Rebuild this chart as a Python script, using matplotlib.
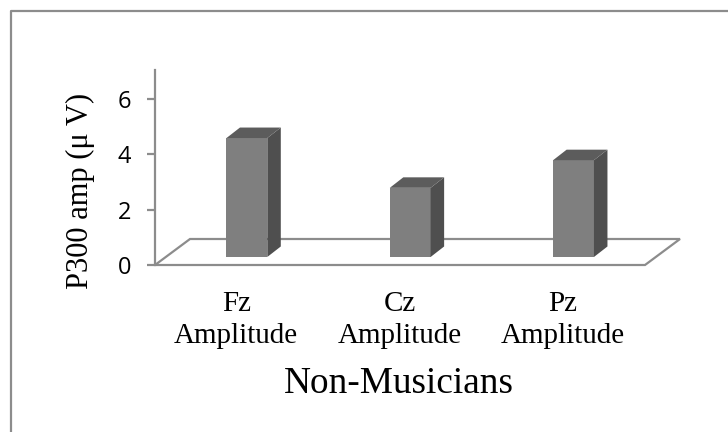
import matplotlib.pyplot as plt
from matplotlib.patches import Polygon
from matplotlib.lines import Line2D

categories = ['Fz\nAmplitude', 'Cz\nAmplitude', 'Pz\nAmplitude']
values = [4.3, 2.5, 3.5]
yticks = [0, 2, 4, 6]

W, H = 728, 432
fig = plt.figure(figsize=(W / 100, H / 100), dpi=100)

# front edge of the floor runs 155-645 px, y axis 70-265 px
ax = fig.add_axes([155 / W, 1 - 265 / H, 490 / W, 195 / H])
ax.set_xlim(0, 3)
ax.set_ylim(0, 7.05)

line = '#8c8c8c'
front = '#7f7f7f'
side = '#4f4f4f'
top = '#5c5c5c'

# fake 3d depth, in data units
dx = 13.5 / 490 * 3
dy = 10.5 / 195 * 7.05
floor_dx = 35 / 490 * 3
floor_dy = 26 / 195 * 7.05
base = 0.29
width = 0.25
shift = 0.5625

# floor
ax.add_patch(Polygon([(0, 0), (3, 0), (3 + floor_dx, floor_dy), (floor_dx, floor_dy)],
                     closed=True, fill=False, edgecolor=line, lw=1.6, clip_on=False, zorder=1))

# bars
xs = [i + shift for i in range(len(values))]
ax.bar(xs, values, width=width, bottom=base, color=front, zorder=3)
for x, v in zip(xs, values):
    l = x - width / 2
    r = x + width / 2
    t = base + v
    ax.add_patch(Polygon([(r, base), (r + dx, base + dy), (r + dx, t + dy), (r, t)],
                         closed=True, facecolor=side, edgecolor='none', zorder=3))
    ax.add_patch(Polygon([(l, t), (r, t), (r + dx, t + dy), (l + dx, t + dy)],
                         closed=True, facecolor=top, edgecolor='none', zorder=3))

for s in ['top', 'right', 'bottom']:
    ax.spines[s].set_visible(False)
ax.spines['left'].set_color(line)
ax.spines['left'].set_linewidth(1.6)

ax.set_yticks(yticks)
ax.set_yticklabels([str(t) for t in yticks], fontsize=17, family='Open Sans')
ax.tick_params(axis='y', color=line, width=1.6, length=5.8, pad=11.5)

ax.set_xticks([i + 0.4975 for i in range(3)])
ax.set_xticklabels(categories, family='Liberation Serif', fontsize=20.9, linespacing=1.26)
ax.tick_params(axis='x', length=0, pad=19)

fig.text(399 / W, 1 - 384 / H, 'Non-Musicians', family='Liberation Serif', fontsize=26.8,
         ha='center', va='center')
fig.text(80 / W, 1 - 191 / H, 'P300 amp (\u03bc V)', family='Liberation Serif', fontsize=22,
         rotation=90, ha='center', va='center')

# only the left and top edges of the frame are in the picture
fig.add_artist(Line2D([10.5 / W, 10.5 / W, 1], [0, 1 - 10.5 / H, 1 - 10.5 / H],
                      transform=fig.transFigure, color='#8c8c8c', lw=1.6))

fig.savefig('out.png', dpi=100)
